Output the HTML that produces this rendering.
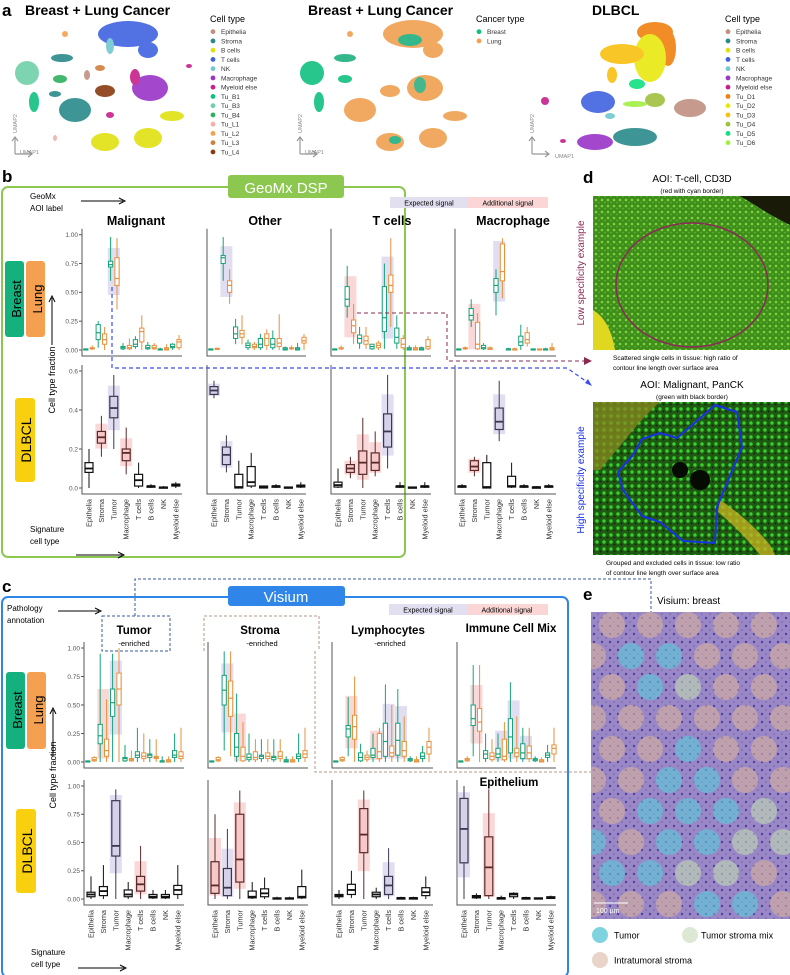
<!DOCTYPE html>
<html><head><meta charset="utf-8"><style>
body{margin:0;background:#fff}
svg{display:block;font-family:"Liberation Sans",sans-serif}
</style></head><body>
<svg id="fig" width="790" height="975" viewBox="0 0 790 975" xmlns="http://www.w3.org/2000/svg">
<defs>
<pattern id="tis1" width="6" height="6" patternUnits="userSpaceOnUse"><rect width="6" height="6" fill="#3e8e1c"/><circle cx="2" cy="2" r="1.3" fill="#7fd23c"/><circle cx="5" cy="4.5" r="0.9" fill="#5fb02a"/></pattern>
<pattern id="tis2" width="7" height="7" patternUnits="userSpaceOnUse"><rect width="7" height="7" fill="#1e5a12"/><circle cx="2" cy="3" r="1.7" fill="#3ad030"/><circle cx="5.5" cy="5.5" r="1" fill="#0e2a08"/></pattern>
<pattern id="he" width="8" height="8" patternUnits="userSpaceOnUse"><rect width="8" height="8" fill="#9a88c6"/><circle cx="2" cy="2" r="1.2" fill="#5040a0"/><circle cx="6" cy="6" r="0.8" fill="#7060b0"/></pattern>
</defs>

<!-- Panel a -->
<g>
<text x="2" y="16" font-size="17" font-weight="bold">a</text>
<text x="25" y="15" font-size="14" font-weight="bold">Breast + Lung Cancer</text>
<text x="308" y="15" font-size="14" font-weight="bold">Breast + Lung Cancer</text>
<text x="592" y="15" font-size="14" font-weight="bold">DLBCL</text>
<g opacity="0.9">
<ellipse cx="128" cy="34" rx="30" ry="13" fill="#4062e0"/><ellipse cx="148" cy="50" rx="10" ry="8" fill="#4062e0"/><ellipse cx="110" cy="46" rx="4" ry="8" fill="#70c8d0"/>
<ellipse cx="75" cy="110" rx="16" ry="12" fill="#2a8a8a"/><ellipse cx="55" cy="94" rx="6" ry="3" fill="#2a8a8a"/><ellipse cx="62" cy="58" rx="11" ry="4" fill="#2a8a8a"/>
<ellipse cx="27" cy="73" rx="12" ry="12" fill="#70d0a8"/><ellipse cx="34" cy="102" rx="5" ry="10" fill="#10c080"/><ellipse cx="60" cy="79" rx="7" ry="4" fill="#30b060"/>
<ellipse cx="150" cy="88" rx="18" ry="13" fill="#9a35c8"/><ellipse cx="135" cy="77" rx="5" ry="8" fill="#c8208a"/><ellipse cx="110" cy="115" rx="4" ry="3" fill="#c8208a"/><ellipse cx="189" cy="66" rx="3" ry="2" fill="#c8208a"/>
<ellipse cx="105" cy="91" rx="10" ry="6" fill="#8a3a10"/><ellipse cx="100" cy="68" rx="5" ry="3" fill="#d08040"/><ellipse cx="87" cy="75" rx="3" ry="5" fill="#c09080"/>
<ellipse cx="105" cy="142" rx="14" ry="9" fill="#e0e010"/><ellipse cx="148" cy="138" rx="14" ry="10" fill="#e0e010"/><ellipse cx="172" cy="116" rx="12" ry="5" fill="#e0e010"/>
<ellipse cx="65" cy="34" rx="3" ry="3" fill="#f5a050"/><ellipse cx="55" cy="138" rx="2" ry="3" fill="#f0b0a8"/>
</g>
<g opacity="0.9">
<ellipse cx="413" cy="34" rx="30" ry="14" fill="#f0a050"/><ellipse cx="433" cy="50" rx="10" ry="8" fill="#f0a050"/><ellipse cx="410" cy="40" rx="12" ry="6" fill="#20b080"/>
<ellipse cx="360" cy="110" rx="16" ry="12" fill="#f0a050"/><ellipse cx="345" cy="58" rx="11" ry="4" fill="#20b080"/>
<ellipse cx="312" cy="73" rx="12" ry="12" fill="#10c080"/><ellipse cx="319" cy="102" rx="5" ry="10" fill="#10c080"/><ellipse cx="345" cy="79" rx="7" ry="4" fill="#10c080"/>
<ellipse cx="425" cy="88" rx="18" ry="13" fill="#f0a050"/><ellipse cx="420" cy="85" rx="6" ry="8" fill="#30b080"/><ellipse cx="390" cy="91" rx="10" ry="6" fill="#f0a050"/>
<ellipse cx="390" cy="142" rx="14" ry="9" fill="#f0a050"/><ellipse cx="433" cy="138" rx="14" ry="10" fill="#f0a050"/><ellipse cx="455" cy="116" rx="12" ry="5" fill="#f0a050"/><ellipse cx="395" cy="140" rx="6" ry="4" fill="#20b080"/>
<ellipse cx="350" cy="34" rx="3" ry="3" fill="#f0a050"/>
</g>
<g opacity="0.9">
<ellipse cx="655" cy="32" rx="18" ry="10" fill="#f08010"/><ellipse cx="668" cy="48" rx="8" ry="18" fill="#f08010"/>
<ellipse cx="650" cy="58" rx="16" ry="24" fill="#e8e810"/><ellipse cx="622" cy="54" rx="22" ry="10" fill="#f8c010"/><ellipse cx="612" cy="75" rx="5" ry="8" fill="#f8c010"/>
<ellipse cx="598" cy="102" rx="17" ry="11" fill="#4062e0"/><ellipse cx="610" cy="116" rx="5" ry="3" fill="#70c8d0"/>
<ellipse cx="637" cy="84" rx="8" ry="5" fill="#10e080"/><ellipse cx="655" cy="100" rx="10" ry="7" fill="#a0c040"/><ellipse cx="635" cy="104" rx="12" ry="3" fill="#a0f040"/>
<ellipse cx="690" cy="108" rx="16" ry="9" fill="#c09080"/><ellipse cx="545" cy="101" rx="4" ry="4" fill="#c8208a"/><ellipse cx="563" cy="141" rx="3" ry="2" fill="#c8208a"/>
<ellipse cx="595" cy="142" rx="18" ry="8" fill="#9a35c8"/><ellipse cx="635" cy="137" rx="22" ry="9" fill="#2a8a8a"/>
</g>
<g stroke="#999" fill="none" stroke-width="1.2">
<path d="M15 154 V138 M12 141 L15 137 L18 141 M15 154 H31 M28 151 L32 154 L28 157"/>
<path d="M300 154 V138 M297 141 L300 137 L303 141 M300 154 H316 M313 151 L317 154 L313 157"/>
<path d="M532 154 V138 M529 141 L532 137 L535 141 M532 154 H548 M545 151 L549 154 L545 157"/>
</g>
<g font-size="5.5" fill="#888">
<text x="20" y="154">UMAP1</text><text transform="translate(17,133) rotate(-90)">UMAP2</text>
<text x="305" y="154">UMAP1</text><text transform="translate(302,133) rotate(-90)">UMAP2</text>
<text x="555" y="158">UMAP1</text><text transform="translate(534,133) rotate(-90)">UMAP2</text>
</g>
<g id="legA"></g>
</g>

<!-- Panel b -->
<text x="2" y="182" font-size="17" font-weight="bold">b</text>
<rect x="2" y="187" width="403" height="370" rx="6" fill="none" stroke="#8cc850" stroke-width="2"/>
<rect x="228" y="175" width="116" height="23" rx="3" fill="#8cc850"/>
<text x="286" y="193" font-size="15" fill="#fff" text-anchor="middle">GeoMx DSP</text>
<text x="30" y="199" font-size="8">GeoMx</text>
<text x="30" y="211" font-size="8">AOI label</text>
<path d="M81 201 H123 M119 198 L125 201 L119 204" stroke="#000" fill="none"/>
<rect x="390" y="197" width="78" height="11" fill="#e2e0f0"/>
<rect x="468" y="197" width="80" height="11" fill="#fbd6d6"/>
<text x="429" y="205.5" font-size="7" text-anchor="middle">Expected signal</text>
<text x="508" y="205.5" font-size="7" text-anchor="middle">Additional signal</text>
<g font-size="12.5" font-weight="bold" text-anchor="middle">
<text x="136" y="225">Malignant</text><text x="265" y="225">Other</text><text x="392" y="225">T cells</text><text x="513" y="225">Macrophage</text></g>
<rect x="5" y="261" width="19" height="76" rx="3" fill="#14b07e"/>
<rect x="26" y="261" width="19" height="76" rx="3" fill="#f5a050"/>
<text transform="translate(21,299) rotate(-90)" font-size="13" text-anchor="middle">Breast</text>
<text transform="translate(42,299) rotate(-90)" font-size="13" text-anchor="middle">Lung</text>
<rect x="15" y="398" width="20" height="84" rx="3" fill="#f8d010"/>
<text transform="translate(31,440) rotate(-90)" font-size="14" text-anchor="middle">DLBCL</text>
<text transform="translate(55,380) rotate(-90)" font-size="9" text-anchor="middle">Cell type fraction</text>
<path d="M52 345 V298 M49 302 L52 296 L55 302" stroke="#000" fill="none"/>
<text x="30" y="532" font-size="8">Signature</text>
<text x="30" y="544" font-size="8">cell type</text>
<path d="M76 555 H122 M118 552 L124 555 L118 558" stroke="#000" fill="none"/>

<!-- Panel c -->
<text x="2" y="592" font-size="17" font-weight="bold">c</text>
<rect x="2" y="597" width="566" height="380" rx="6" fill="none" stroke="#2f86e8" stroke-width="2"/>
<rect x="228" y="586" width="117" height="20" rx="3" fill="#2f86e8"/>
<text x="286" y="602" font-size="15" fill="#fff" text-anchor="middle">Visium</text>
<text x="7" y="611" font-size="8">Pathology</text>
<text x="7" y="623" font-size="8">annotation</text>
<path d="M58 611 H99 M95 608 L101 611 L95 614" stroke="#000" fill="none"/>
<rect x="389" y="604" width="78" height="11" fill="#e2e0f0"/>
<rect x="467" y="604" width="81" height="11" fill="#fbd6d6"/>
<text x="428" y="612.5" font-size="7" text-anchor="middle">Expected signal</text>
<text x="507" y="612.5" font-size="7" text-anchor="middle">Additional signal</text>
<g text-anchor="middle">
<text x="134" y="634" font-size="11.5" font-weight="bold">Tumor</text><text x="134" y="646" font-size="7.5">-enriched</text>
<text x="260" y="634" font-size="11.5" font-weight="bold">Stroma</text><text x="262" y="646" font-size="7.5">-enriched</text>
<text x="388" y="634" font-size="11.5" font-weight="bold">Lymphocytes</text><text x="390" y="646" font-size="7.5">-enriched</text>
<text x="511" y="632" font-size="11.5" font-weight="bold">Immune Cell Mix</text>
<text x="509" y="786" font-size="11.5" font-weight="bold">Epithelium</text></g>
<rect x="102" y="616" width="68" height="35" fill="none" stroke="#3a5a9a" stroke-dasharray="3,2"/>
<path d="M204 651 V616 H319 V651 M315 651 V772 H598" fill="none" stroke="#b09a88" stroke-dasharray="3,2"/>
<path d="M592 768 L600 772 L592 776 Z" fill="#b09a88"/>
<path d="M135 616 V579 H651 V640" fill="none" stroke="#3a5a9a" stroke-dasharray="3,2"/>
<path d="M647 637 L651 643 L655 637 Z" fill="#3a5a9a"/>
<rect x="6" y="672" width="19" height="77" rx="3" fill="#14b07e"/>
<rect x="27" y="672" width="19" height="77" rx="3" fill="#f5a050"/>
<text transform="translate(22,710) rotate(-90)" font-size="13" text-anchor="middle">Breast</text>
<text transform="translate(43,710) rotate(-90)" font-size="13" text-anchor="middle">Lung</text>
<rect x="16" y="809" width="20" height="84" rx="3" fill="#f8d010"/>
<text transform="translate(32,851) rotate(-90)" font-size="14" text-anchor="middle">DLBCL</text>
<text transform="translate(56,775) rotate(-90)" font-size="9" text-anchor="middle">Cell type fraction</text>
<path d="M53 757 V710 M50 714 L53 708 L56 714" stroke="#000" fill="none"/>
<text x="31" y="955" font-size="8">Signature</text>
<text x="31" y="967" font-size="8">cell type</text>
<path d="M78 968 H124 M120 965 L126 968 L120 971" stroke="#000" fill="none"/>

<g id="charts"></g>

<!-- dashed links b -> d -->
<path d="M112 287 V368 H567 L590 384" fill="none" stroke="#3a4ef0" stroke-width="1.2" stroke-dasharray="4,3"/>
<path d="M585 383 L592 386 L588 379 Z" fill="#3a4ef0"/>
<path d="M357 313 H447 V361 H585" fill="none" stroke="#8a2a50" stroke-width="1" stroke-dasharray="4,3"/>
<path d="M584 357 L592 361 L584 365 Z" fill="#8a2a50"/>

<!-- Panel d -->
<text x="583" y="183" font-size="17" font-weight="bold">d</text>
<text x="692" y="182" font-size="10" text-anchor="middle">AOI: T-cell, CD3D</text>
<text x="692" y="193" font-size="6.5" text-anchor="middle">(red with cyan border)</text>
<rect x="593" y="196" width="197" height="154" fill="url(#tis1)"/>
<path d="M740 196 H790 V225 Q770 215 755 205 Z" fill="#1a1a08"/>
<path d="M593 310 Q610 320 615 350 H593 Z" fill="#e0d820"/>
<ellipse cx="692" cy="285" rx="76" ry="62" fill="none" stroke="#8a2a58" stroke-width="1.5"/>
<text transform="translate(584,273) rotate(-90)" font-size="10" fill="#8a2a58" text-anchor="middle">Low specificity example</text>
<text x="613" y="360" font-size="6.5">Scattered single cells in tissue: high ratio of</text>
<text x="613" y="370" font-size="6.5">contour line length over surface area</text>
<text x="692" y="388" font-size="10" text-anchor="middle">AOI: Malignant, PanCK</text>
<text x="692" y="399" font-size="6.5" text-anchor="middle">(green with black border)</text>
<rect x="593" y="402" width="197" height="153" fill="url(#tis2)"/>
<path d="M593 402 H660 Q640 420 625 440 L600 470 L593 470 Z" fill="#8a8a20" opacity="0.75"/>
<path d="M720 500 Q750 520 770 545 L775 555 H760 Q740 530 718 512 Z" fill="#c0b020" opacity="0.8"/>
<circle cx="680" cy="470" r="8" fill="#050a02"/>
<circle cx="700" cy="480" r="10" fill="#050a02"/>
<path d="M715 405 L737 412 L742 447 L717 507 L715 543 L683 541 L660 522 L642 516 L623 490 L618 472 L633 455 L642 439 L660 433 L677 438 L690 427 Z" fill="none" stroke="#1a30e8" stroke-width="2"/>
<text transform="translate(584,480) rotate(-90)" font-size="10" fill="#1a30e8" text-anchor="middle">High specificity example</text>
<text x="606" y="565" font-size="6.5">Grouped and excluded cells in tissue: low ratio</text>
<text x="606" y="575" font-size="6.5">of contour line length over surface area</text>

<!-- Panel e -->
<text x="583" y="600" font-size="17" font-weight="bold">e</text>
<text x="657" y="604" font-size="10">Visium: breast</text>
<svg x="591" y="612" width="199" height="307" viewBox="591 612 199 307">
<rect x="591" y="612" width="199" height="307" fill="url(#he)"/>
<g id="spots"></g>
</svg>
<line x1="594" y1="903" x2="628" y2="903" stroke="#fff" stroke-width="1"/>
<text x="596" y="913" font-size="7" fill="#fff">100 µm</text>
<circle cx="600" cy="935" r="8" fill="#7ed4de"/>
<text x="614" y="938.5" font-size="9">Tumor</text>
<circle cx="690" cy="935" r="8" fill="#dde8d4"/>
<text x="701" y="938.5" font-size="9">Tumor stroma mix</text>
<circle cx="600" cy="960" r="8" fill="#e8d4c8"/>
<text x="614" y="963.5" font-size="9">Intratumoral stroma</text>
</svg>
<script>
const NS="http://www.w3.org/2000/svg";
function mk(tag,attrs,parent){const e=document.createElementNS(NS,tag);for(const k in attrs)e.setAttribute(k,attrs[k]);parent.appendChild(e);return e;}

// ---------- Legends panel a ----------
const legCellNames=["Epithelia","Stroma","B cells","T cells","NK","Macrophage","Myeloid else","Tu_B1","Tu_B3","Tu_B4","Tu_L1","Tu_L2","Tu_L3","Tu_L4"];
const legCellColors=["#c09080","#2a8a8a","#e0e010","#4062e0","#70c8d0","#9a35c8","#c8208a","#10c080","#70d0a8","#30b060","#f0b0a8","#f5a050","#d08040","#8a3a10"];
const legCancerNames=["Breast","Lung"];
const legCancerColors=["#10c080","#f5a050"];
const legDlbclNames=["Epithelia","Stroma","B cells","T cells","NK","Macrophage","Myeloid else","Tu_D1","Tu_D2","Tu_D3","Tu_D4","Tu_D5","Tu_D6"];
const legDlbclColors=["#c09080","#2a8a8a","#e0e010","#4062e0","#70c8d0","#9a35c8","#c8208a","#f08010","#e8e810","#f8c010","#a0c040","#10e080","#a0f040"];
const legA=document.getElementById('legA');
function legend(x,title,names,cols){
  const t=mk('text',{x:x,y:22,'font-size':9},legA);t.textContent=title;
  
  
  names.forEach((n,i)=>{
    const y=34+i*9.25;
    const c=mk('circle',{cx:x+3,cy:y-2.3,r:2.4,fill:cols[i]},legA);
    
    
    const tx=mk('text',{x:x+11,y:y,'font-size':6.5,fill:'#333'},legA);tx.textContent=n;
    
    
  });
}
legend(210,"Cell type",legCellNames,legCellColors);
legend(476,"Cancer type",legCancerNames,legCancerColors);
legend(725,"Cell type",legDlbclNames,legDlbclColors);

// ---------- Visium spots (panel e) ----------
const spotRows=["TTTTT","TCCTTT","TCGTT","TTTTTT","TTCTT","TTCCTT","TCCCG","CTCCGG","CCGGT","TTTCCT"];
const spotCol={T:"#d6b0a0",C:"#5ec8d8",G:"#c0d6b4"};
const spots=document.getElementById('spots');
spotRows.forEach((row,r)=>{
  const y=625+r*31, x0=(r%2===0)?612:593;
  [...row].forEach((ch,i)=>{
    const c=mk('circle',{cx:x0+i*38,cy:y,r:13,fill:spotCol[ch],opacity:0.62},spots);
    
    
  });
});

// ---------- Boxplot data: [lo, q1, median, q3, hi] per cell type ----------
const cats=["Epithelia","Stroma","Tumor","Macrophage","T cells","B cells","NK","Myeloid else"];
const gTicks=["1.00","0.75","0.50","0.25","0.00"];
const gTickVals=[1,0.75,0.5,0.25,0];
const dTicks=["0.6","0.4","0.2","0.0"];
const dTickVals=[0.6,0.4,0.2,0];

const gMalBreast=[[0,0,0.005,0.01,0.01],[0.02,0.09,0.15,0.22,0.25],[0.6,0.72,0.74,0.77,0.98],[0,0.01,0.02,0.03,0.06],[0.01,0.03,0.05,0.09,0.12],[0,0.01,0.02,0.04,0.07],[0,0,0.005,0.01,0.02],[0,0.02,0.03,0.05,0.06]];
const gMalLung=[[0,0.01,0.015,0.02,0.04],[0,0.05,0.09,0.14,0.2],[0.35,0.56,0.62,0.8,0.97],[0,0.01,0.02,0.04,0.1],[0,0.07,0.16,0.19,0.3],[0,0.01,0.02,0.04,0.06],[0,0,0.01,0.02,0.05],[0,0.02,0.07,0.09,0.13]];
const gOthBreast=[[0,0,0.005,0.01,0.01],[0.6,0.75,0.8,0.82,0.98],[0.05,0.1,0.14,0.2,0.27],[0,0.02,0.04,0.06,0.09],[0,0.02,0.05,0.1,0.14],[0,0.02,0.05,0.1,0.17],[0,0,0.01,0.02,0.03],[0,0,0.01,0.02,0.06]];
const gOthLung=[[0,0.005,0.01,0.015,0.02],[0.4,0.5,0.56,0.6,0.7],[0.05,0.11,0.14,0.17,0.3],[0,0.02,0.03,0.05,0.07],[0,0.04,0.1,0.14,0.18],[0,0.03,0.06,0.1,0.31],[0,0.01,0.015,0.02,0.04],[0,0.06,0.08,0.11,0.14]];
const gTcBreast=[[0,0,0.005,0.01,0.01],[0.28,0.38,0.44,0.55,0.73],[0.01,0.06,0.1,0.13,0.2],[0,0.01,0.03,0.05,0.05],[0.01,0.16,0.28,0.55,0.75],[0.01,0.06,0.11,0.19,0.3],[0,0,0.01,0.02,0.04],[0,0,0.01,0.02,0.03]];
const gTcLung=[[0,0.01,0.01,0.02,0.04],[0.05,0.15,0.21,0.26,0.4],[0.01,0.05,0.08,0.12,0.2],[0,0.02,0.04,0.06,0.08],[0.2,0.5,0.56,0.65,0.97],[0,0.02,0.05,0.1,0.13],[0,0,0.01,0.02,0.04],[0,0.01,0.03,0.09,0.12]];
const gMacBreast=[[0,0,0.005,0.01,0.01],[0.2,0.26,0.3,0.36,0.44],[0,0.01,0.02,0.04,0.06],[0.3,0.5,0.56,0.62,0.7],[0,0,0.01,0.01,0.02],[0,0.04,0.07,0.12,0.22],[0,0,0.005,0.01,0.01],[0,0,0.005,0.01,0.02]];
const gMacLung=[[0,0.01,0.015,0.02,0.03],[0,0.01,0.05,0.24,0.32],[0,0.005,0.01,0.02,0.03],[0.45,0.6,0.68,0.92,0.97],[0,0,0.01,0.01,0.02],[0.03,0.06,0.09,0.15,0.2],[0,0,0.005,0.01,0.01],[0,0,0.01,0.02,0.06]];
const dMal=[[0,0.08,0.1,0.13,0.2],[0.16,0.23,0.26,0.29,0.37],[0.2,0.36,0.41,0.47,0.58],[0.07,0.14,0.18,0.2,0.31],[0,0.01,0.04,0.07,0.13],[0,0.005,0.01,0.01,0.02],[0,0,0.003,0.005,0.01],[0,0.01,0.015,0.02,0.03]];
const dOth=[[0.46,0.48,0.5,0.52,0.55],[0.08,0.12,0.17,0.21,0.27],[0,0,0.005,0.07,0.14],[0,0.01,0.03,0.11,0.18],[0,0,0.005,0.01,0.01],[0,0.005,0.01,0.01,0.02],[0,0,0.002,0.005,0.005],[0,0.005,0.01,0.015,0.03]];
const dTc=[[0,0.005,0.015,0.03,0.1],[0.05,0.08,0.1,0.12,0.16],[0,0.07,0.13,0.19,0.36],[0.06,0.09,0.13,0.18,0.29],[0.1,0.21,0.29,0.38,0.58],[0,0.005,0.01,0.01,0.03],[0,0,0.002,0.005,0.005],[0,0.005,0.01,0.01,0.03]];
const dMac=[[0,0.005,0.01,0.01,0.02],[0.06,0.09,0.11,0.14,0.16],[0,0,0.005,0.13,0.17],[0.24,0.3,0.34,0.41,0.55],[0,0.005,0.01,0.06,0.13],[0,0.005,0.01,0.01,0.02],[0,0,0.005,0.005,0.01],[0,0.005,0.01,0.01,0.02]];
const vTumBreast=[[0,0,0.005,0.01,0.01],[0,0.16,0.23,0.33,0.95],[0,0.4,0.52,0.64,0.95],[0,0.01,0.03,0.04,0.15],[0,0.04,0.06,0.09,0.3],[0,0.04,0.06,0.07,0.2],[0,0,0.01,0.01,0.05],[0,0.04,0.06,0.1,0.25]];
const vTumLung=[[0,0.01,0.02,0.04,0.05],[0,0.05,0.1,0.2,0.55],[0,0.5,0.64,0.78,1.0],[0,0.01,0.02,0.03,0.1],[0,0.03,0.05,0.08,0.25],[0,0.03,0.04,0.05,0.2],[0,0,0.01,0.02,0.05],[0,0.03,0.05,0.09,0.3]];
const vStrBreast=[[0,0,0.005,0.01,0.01],[0.1,0.5,0.63,0.76,0.97],[0,0.05,0.13,0.25,0.6],[0,0.02,0.04,0.07,0.25],[0,0.03,0.05,0.06,0.2],[0,0.02,0.04,0.05,0.2],[0,0,0.01,0.02,0.05],[0,0.03,0.05,0.07,0.25]];
const vStrLung=[[0,0.01,0.02,0.04,0.05],[0.05,0.4,0.56,0.71,0.97],[0,0.01,0.05,0.13,0.35],[0,0.02,0.04,0.09,0.2],[0,0.03,0.05,0.08,0.2],[0,0.03,0.05,0.09,0.2],[0,0,0.01,0.02,0.05],[0,0.04,0.07,0.1,0.3]];
const vLymBreast=[[0,0,0.005,0.01,0.01],[0.05,0.22,0.29,0.32,0.57],[0,0.01,0.04,0.08,0.16],[0,0.04,0.06,0.12,0.25],[0,0.05,0.18,0.34,0.68],[0,0.06,0.19,0.34,0.64],[0,0.01,0.02,0.03,0.05],[0,0.03,0.05,0.08,0.14]];
const vLymLung=[[0,0.01,0.02,0.04,0.05],[0,0.2,0.31,0.41,0.75],[0,0.02,0.04,0.06,0.1],[0,0.03,0.09,0.25,0.3],[0,0.05,0.08,0.14,0.5],[0,0.05,0.1,0.18,0.4],[0,0,0.01,0.02,0.05],[0,0.07,0.13,0.18,0.3]];
const vImmBreast=[[0,0,0.005,0.01,0.01],[0.05,0.32,0.38,0.5,0.85],[0,0.03,0.07,0.1,0.25],[0,0.04,0.07,0.12,0.25],[0,0.08,0.22,0.38,0.7],[0,0.03,0.08,0.16,0.3],[0,0.01,0.02,0.03,0.05],[0,0.04,0.06,0.08,0.15]];
const vImmLung=[[0,0.01,0.02,0.03,0.05],[0,0.27,0.35,0.47,0.85],[0,0.02,0.05,0.08,0.2],[0,0.02,0.05,0.2,0.35],[0,0.05,0.08,0.12,0.4],[0,0.03,0.08,0.14,0.3],[0,0,0.01,0.02,0.04],[0,0.07,0.12,0.15,0.3]];
const vdTum=[[0,0.02,0.04,0.06,0.2],[0,0.03,0.07,0.11,0.3],[0,0.38,0.47,0.87,0.97],[0,0.02,0.04,0.08,0.15],[0,0.07,0.13,0.2,0.47],[0,0.01,0.02,0.04,0.08],[0,0.01,0.02,0.04,0.08],[0,0.04,0.08,0.12,0.3]];
const vdStr=[[0,0.05,0.12,0.33,0.75],[0,0.03,0.1,0.27,0.62],[0,0.15,0.35,0.75,0.96],[0,0.01,0.02,0.07,0.15],[0,0.02,0.05,0.09,0.19],[0,0,0.005,0.01,0.02],[0,0,0.005,0.01,0.02],[0,0.01,0.02,0.11,0.26]];
const vdLym=[[0,0.02,0.03,0.04,0.08],[0.01,0.04,0.08,0.13,0.25],[0,0.41,0.57,0.8,0.96],[0,0.02,0.04,0.06,0.1],[0,0.04,0.12,0.2,0.45],[0,0.005,0.01,0.01,0.02],[0,0.005,0.01,0.01,0.02],[0,0.03,0.06,0.1,0.2]];
const vdEpi=[[0,0.32,0.62,0.89,1.0],[0,0.01,0.02,0.03,0.05],[0,0.03,0.28,0.55,0.97],[0,0.005,0.01,0.01,0.03],[0,0.02,0.04,0.05,0.06],[0,0.005,0.01,0.01,0.02],[0,0,0.005,0.01,0.01],[0,0.005,0.01,0.02,0.03]];
const hlMalExp=[2], hlMalAdd=[1,3];
const hlOthExp=[0,1], hlOthAdd=[];
const hlTcExp=[4], hlTcAdd=[1,2,3];
const hlMacExp=[3], hlMacAdd=[1];
const hlTopMalAdd=[], hlTopOthAdd=[], hlTopTcAdd=[1], hlTopMacAdd=[1];
const hlTopOthExp=[1];
const hlVTumExp=[2], hlVTumAdd=[1];
const hlVStrExp=[1], hlVStrAdd=[2];
const hlVLymExp=[4,5], hlVLymAdd=[1,3];
const hlVImmExp=[3,4,5], hlVImmAdd=[1];
const hlVdTumExp=[2], hlVdTumAdd=[4];
const hlVdStrExp=[1], hlVdStrAdd=[0,2];
const hlVdLymExp=[4], hlVdLymAdd=[2];
const hlVdEpiExp=[0], hlVdEpiAdd=[2];

const GREEN="#16a37a", ORANGE="#e8913c";
const root=document.getElementById('charts');

function drawPanel(p, series, colors, exp, add, ticks, tickVals, showCats, name){
  const g=mk('g',{},root);
  
  
  const ys=v=>p.yZero-(v/p.vmax)*(p.yZero-p.yTop);
  const xs=i=>p.x0+7+i*12.4;
  const paired=series.length===2;
  const bw=paired?4.2:8, off=paired?3.2:0;
  const drawHL=(idxs,fill,kind)=>idxs.forEach(i=>{
    let top=-1,bot=99;
    series.forEach(s=>{const d=s[i];top=Math.max(top,d[3]+0.5*(d[4]-d[3]));bot=Math.min(bot,d[1]-0.4*(d[1]-d[0]));});
    const r=mk('rect',{x:xs(i)-6,y:ys(top),width:12,height:Math.max(2,ys(bot)-ys(top)),fill:fill},g);
    
    
  });
  drawHL(exp,'#e0def0','expected');
  drawHL(add,'#fbd8d8','additional');
  const ax=mk('path',{d:`M${p.x0} ${p.yTop-6} V${p.yZero+6} H${p.x1}`,fill:'none',stroke:'#555','stroke-width':1},g);
  
  
  if(ticks){ticks.forEach((t,k)=>{
    const y=ys(tickVals[k]);
    const tl=mk('line',{x1:p.x0-3,x2:p.x0,y1:y,y2:y,stroke:'#555'},g);
    
    
    const tx=mk('text',{x:p.x0-4,y:y+2.3,'font-size':6.5,fill:'#555','text-anchor':'end'},g);tx.textContent=t;
    
    
  });}
  series.forEach((s,si)=>{
    const col=colors[si];
    s.forEach((d,i)=>{
      const cx=xs(i)+(paired?(si===0?-off:off):0);
      const inExp=exp.includes(i), inAdd=add.includes(i);
      const fill=paired?'#fff':(inExp?'#d4d1e8':(inAdd?'#f6c8c8':'#fff'));
      const stroke=paired?col:(inExp?'#3a3850':(inAdd?'#5a2a2a':'#111'));
      const w=mk('line',{x1:cx,x2:cx,y1:ys(d[0]),y2:ys(d[4]),stroke:stroke,'stroke-width':1},g);
      
      
      const b=mk('rect',{x:cx-bw/2,y:ys(d[3]),width:bw,height:Math.max(1.2,ys(d[1])-ys(d[3])),fill:fill,stroke:stroke,'stroke-width':paired?1:1.2},g);
      
      
      const m=mk('line',{x1:cx-bw/2,x2:cx+bw/2,y1:ys(d[2]),y2:ys(d[2]),stroke:stroke,'stroke-width':paired?1.2:1.8},g);
      
      
    });
  });
  if(showCats){cats.forEach((c,i)=>{
    const t=mk('text',{transform:`translate(${xs(i)+2.5},${p.yZero+11}) rotate(-90)`,'font-size':7.3,fill:'#333','text-anchor':'end'},g);
    t.textContent=c;
    
    
  });}
}

const gTopY={yTop:234.7,yZero:350,vmax:1};
drawPanel({x0:82,x1:182,...gTopY},[gMalBreast,gMalLung],[GREEN,ORANGE],hlMalExp,hlTopMalAdd,gTicks,gTickVals,false,'geomx-malignant-breast-lung');
drawPanel({x0:207,x1:306,...gTopY},[gOthBreast,gOthLung],[GREEN,ORANGE],hlTopOthExp,hlTopOthAdd,null,null,false,'geomx-other-breast-lung');
drawPanel({x0:331,x1:431,...gTopY},[gTcBreast,gTcLung],[GREEN,ORANGE],hlTcExp,hlTopTcAdd,null,null,false,'geomx-tcells-breast-lung');
drawPanel({x0:455,x1:556,...gTopY},[gMacBreast,gMacLung],[GREEN,ORANGE],hlMacExp,hlTopMacAdd,null,null,false,'geomx-macrophage-breast-lung');
const gBotY={yTop:371,yZero:488,vmax:0.6};
drawPanel({x0:82,x1:182,...gBotY},[dMal],['#111'],hlMalExp,hlMalAdd,dTicks,dTickVals,true,'geomx-malignant-dlbcl');
drawPanel({x0:207,x1:306,...gBotY},[dOth],['#111'],hlOthExp,hlOthAdd,null,null,true,'geomx-other-dlbcl');
drawPanel({x0:331,x1:431,...gBotY},[dTc],['#111'],hlTcExp,hlTcAdd,null,null,true,'geomx-tcells-dlbcl');
drawPanel({x0:455,x1:556,...gBotY},[dMac],['#111'],hlMacExp,hlMacAdd,null,null,true,'geomx-macrophage-dlbcl');
const vTopY={yTop:648,yZero:762,vmax:1};
drawPanel({x0:84,x1:184,...vTopY},[vTumBreast,vTumLung],[GREEN,ORANGE],hlVTumExp,hlVTumAdd,gTicks,gTickVals,false,'visium-tumor-breast-lung');
drawPanel({x0:208,x1:308,...vTopY},[vStrBreast,vStrLung],[GREEN,ORANGE],hlVStrExp,hlVStrAdd,null,null,false,'visium-stroma-breast-lung');
drawPanel({x0:332,x1:433,...vTopY},[vLymBreast,vLymLung],[GREEN,ORANGE],hlVLymExp,hlVLymAdd,null,null,false,'visium-lymphocytes-breast-lung');
drawPanel({x0:457,x1:556,...vTopY},[vImmBreast,vImmLung],[GREEN,ORANGE],hlVImmExp,hlVImmAdd,null,null,false,'visium-immune-mix-breast-lung');
const vBotY={yTop:786,yZero:899,vmax:1};
drawPanel({x0:84,x1:184,...vBotY},[vdTum],['#111'],hlVdTumExp,hlVdTumAdd,gTicks,gTickVals,true,'visium-tumor-dlbcl');
drawPanel({x0:208,x1:308,...vBotY},[vdStr],['#111'],hlVdStrExp,hlVdStrAdd,null,null,true,'visium-stroma-dlbcl');
drawPanel({x0:332,x1:433,...vBotY},[vdLym],['#111'],hlVdLymExp,hlVdLymAdd,null,null,true,'visium-lymphocytes-dlbcl');
drawPanel({x0:457,x1:556,...vBotY},[vdEpi],['#111'],hlVdEpiExp,hlVdEpiAdd,null,null,true,'visium-epithelium-dlbcl');
</script>
</body></html>
